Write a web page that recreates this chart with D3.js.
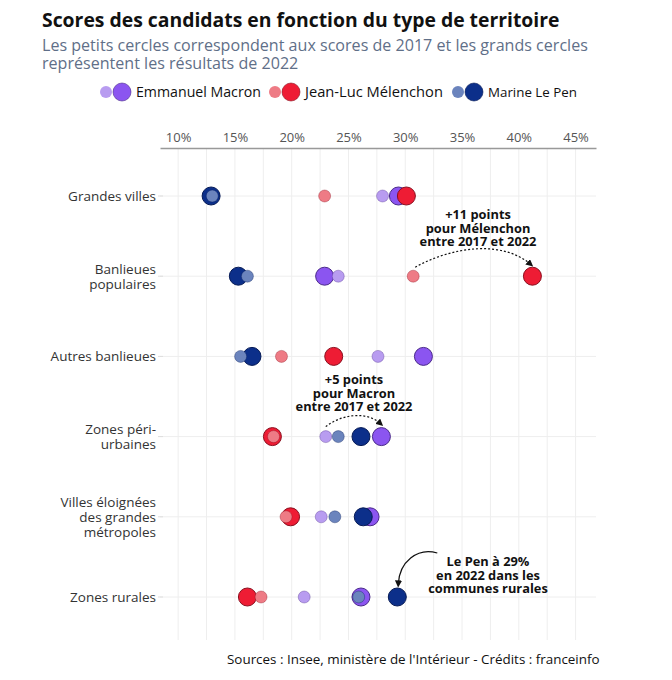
<!DOCTYPE html>
<html><head><meta charset="utf-8">
<script src="https://cdn.jsdelivr.net/npm/d3@7"></script>
<style>
body{margin:0;background:#fff;}
svg{font-family:"Open Sans",Lato,sans-serif;}
</style></head>
<body><svg id="c" width="672" height="680"></svg>
<script>
const categories = ["Grandes villes","Banlieues populaires","Autres banlieues","Zones péri-urbaines","Villes éloignées des grandes métropoles","Zones rurales"];
const categoryLines = [["Grandes villes"],["Banlieues","populaires"],["Autres banlieues"],["Zones péri-","urbaines"],["Villes éloignées","des grandes","métropoles"],["Zones rurales"]];
const candidates = ["Emmanuel Macron","Jean-Luc Mélenchon","Marine Le Pen"];
const macron2017 = [28.0, 24.1, 27.6, 23.0, 22.6, 21.1];
const macron2022 = [29.4, 22.9, 31.6, 27.9, 26.9, 26.1];
const melenchon2017 = [22.9, 30.7, 19.1, 18.4, 19.5, 17.3];
const melenchon2022 = [30.1, 41.2, 23.7, 18.3, 19.9, 16.1];
const lepen2017 = [13.0, 16.1, 15.5, 24.1, 23.8, 25.9];
const lepen2022 = [12.9, 15.3, 16.5, 26.1, 26.3, 29.3];
const tickValues = [10,15,20,25,30,35,40,45];
const minorTicks = [12.5,17.5,22.5,27.5,32.5,37.5,42.5];

const colors2022 = ["#8b55f0","#ee1c34","#0c2f8a"];
const colors2017 = ["#b89cf0","#ee7b85","#6b84bd"];
const strokes = ["#4a2a8a","#8a0f1e","#061a55"];

const svg = d3.select("#c");
const x = d3.scaleLinear().domain([8.4, 46.8]).range([160, 596]);
const y = d3.scalePoint().domain(categories).range([196, 597]);

// fit a text's font-size so its width matches a target
function fit(sel, w){
  const base = +sel.attr("font-size");
  const len = sel.node().getComputedTextLength();
  const fs = base * w / len;
  sel.attr("font-size", fs);
  return fs;
}

// title
fit(svg.append("text").attr("x",42).attr("y",27).attr("font-size",20).attr("font-weight",700).attr("fill","#111")
  .text("Scores des candidats en fonction du type de territoire"), 518);
const sub = ["Les petits cercles correspondent aux scores de 2017 et les grands cercles","représentent les résultats de 2022"];
const subs = sub.map((t,i)=>svg.append("text").attr("x",42).attr("y",51+i*18).attr("font-size",15.5).attr("fill","#5f6f88").text(t));
const sfs = fit(subs[0], 546);
subs[1].attr("font-size", sfs);

// legend
const legX = [106, 275, 458];
const legW = [125, 138, 89];
candidates.forEach((c,i)=>{
  const g = svg.append("g");
  g.append("circle").attr("cx",legX[i]).attr("cy",92).attr("r",6).attr("fill",colors2017[i]);
  g.append("circle").attr("cx",legX[i]+16).attr("cy",92).attr("r",9).attr("fill",colors2022[i]).attr("stroke",strokes[i]).attr("stroke-width",0.6);
  fit(g.append("text").attr("x",legX[i]+30).attr("y",97).attr("font-size",13.5).attr("fill","#111").text(c), legW[i]);
});

// grid
svg.append("g").selectAll("line").data(tickValues.concat(minorTicks)).join("line")
  .attr("x1",d=>x(d)).attr("x2",d=>x(d)).attr("y1",148).attr("y2",640)
  .attr("stroke","#eeeeee").attr("stroke-width",1);
svg.append("g").selectAll("line").data(categories).join("line")
  .attr("x1",160).attr("x2",596).attr("y1",d=>y(d)).attr("y2",d=>y(d))
  .attr("stroke","#eeeeee").attr("stroke-width",1);

// top axis
const ax = svg.append("g").attr("transform","translate(0,148)")
  .call(d3.axisTop(x).tickValues(tickValues).tickFormat(d=>d+"%").tickSize(0).tickPadding(6));
ax.select(".domain").attr("stroke","#999").attr("stroke-width",1.5);
ax.selectAll("text").attr("font-size",13).attr("fill","#555").attr("font-family","'Open Sans',Lato,sans-serif");

// category labels
const probe = svg.append("text").attr("font-size",13.5).text("Grandes villes");
const cfs = fit(probe, 88);
probe.remove();
categories.forEach((c,i)=>{
  const lines = categoryLines[i];
  const n = lines.length;
  const t = svg.append("text").attr("text-anchor","end").attr("font-size",cfs).attr("fill","#333");
  lines.forEach((l,j)=>t.append("tspan").attr("x",156).attr("y",y(c)+5+(j-(n-1)/2)*15).text(l));
  svg.append("line").attr("x1",158).attr("x2",163).attr("y1",y(c)).attr("y2",y(c)).attr("stroke","#ddd");
});

// dots
const big = [macron2022, melenchon2022, lepen2022];
const small = [macron2017, melenchon2017, lepen2017];
const gBig = svg.append("g");
big.forEach((arr,k)=>{
  gBig.selectAll(null).data(arr).join("circle")
    .attr("cx",d=>x(d)).attr("cy",(d,i)=>y(categories[i])).attr("r",9)
    .attr("fill",colors2022[k]).attr("stroke",strokes[k]).attr("stroke-width",1);
});
const gSmall = svg.append("g");
small.forEach((arr,k)=>{
  gSmall.selectAll(null).data(arr).join("circle")
    .attr("cx",d=>x(d)).attr("cy",(d,i)=>y(categories[i])).attr("r",6)
    .attr("fill",colors2017[k]).attr("stroke",strokes[k]).attr("stroke-opacity",0.35).attr("stroke-width",1);
});

// annotations
const defs = svg.append("defs");
defs.append("marker").attr("id","ah").attr("viewBox","0 0 10 10").attr("refX",5).attr("refY",5)
  .attr("markerWidth",6).attr("markerHeight",6).attr("orient","auto")
  .append("path").attr("d","M0,0 L10,5 L0,10 z").attr("fill","#111");

const nprobe = svg.append("text").attr("font-size",13).attr("font-weight",700).text("entre 2017 et 2022");
const nfs = fit(nprobe, 117);
nprobe.remove();
function note(lines, cx, y0){
  const t = svg.append("text").attr("text-anchor","middle").attr("font-size",nfs).attr("font-weight",700).attr("fill","#111");
  lines.forEach((l,j)=>t.append("tspan").attr("x",cx).attr("y",y0+j*13.6).text(l));
}
note(["+11 points","pour Mélenchon","entre 2017 et 2022"], 478, 219);
note(["+5 points","pour Macron","entre 2017 et 2022"], 354, 384);
note(["Le Pen à 29%","en 2022 dans les","communes rurales"], 488, 566);

const yB = y(categories[1]), yP = y(categories[3]), yR = y(categories[5]);
svg.append("path")
  .attr("d",`M${x(melenchon2017[1])+2},${yB-9} C${x(melenchon2017[1])+40},${yB-30} ${x(melenchon2022[1])-30},${yB-36} ${x(melenchon2022[1])-2},${yB-12}`)
  .attr("fill","none").attr("stroke","#111").attr("stroke-width",1.2).attr("stroke-dasharray","2,2").attr("marker-end","url(#ah)");
svg.append("path")
  .attr("d",`M${x(macron2017[3])},${yP-10} C${x(macron2017[3])+15},${yP-22} ${x(macron2022[3])-15},${yP-26} ${x(macron2022[3])-1},${yP-13}`)
  .attr("fill","none").attr("stroke","#111").attr("stroke-width",1.2).attr("stroke-dasharray","2,2").attr("marker-end","url(#ah)");
svg.append("path")
  .attr("d",`M${x(lepen2022[5])+40},${yR-44} C${x(lepen2022[5])+20},${yR-50} ${x(lepen2022[5])+2},${yR-35} ${x(lepen2022[5])+1},${yR-13}`)
  .attr("fill","none").attr("stroke","#111").attr("stroke-width",1.2).attr("marker-end","url(#ah)");

// source
fit(svg.append("text").attr("x",227).attr("y",664).attr("font-size",13.5).attr("fill","#111")
  .text("Sources : Insee, ministère de l'Intérieur - Crédits : franceinfo"), 373);
</script></body></html>
